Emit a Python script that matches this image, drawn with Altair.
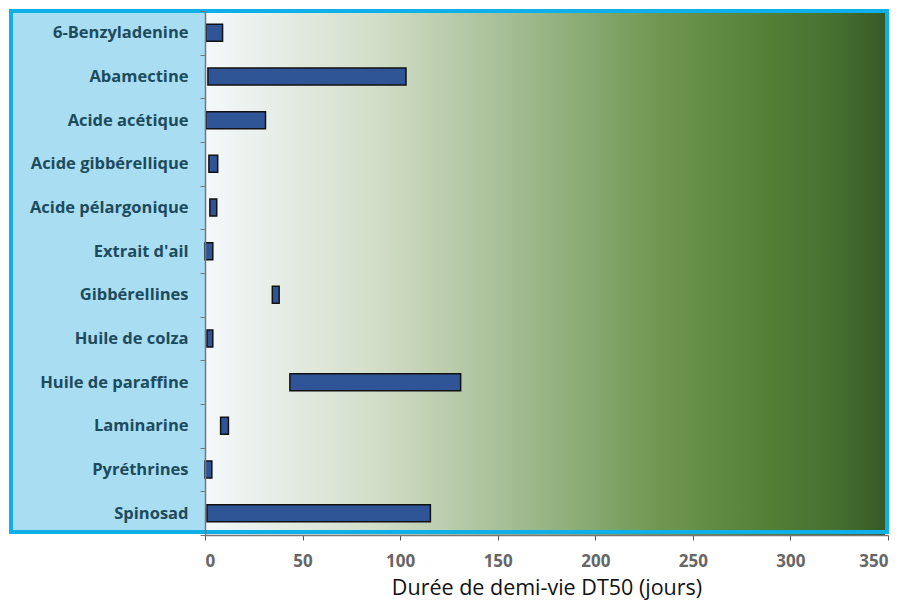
import altair as alt
import pandas as pd

categories = ["6-Benzyladenine", "Abamectine", "Acide acétique", "Acide gibbérellique",
              "Acide pélargonique", "Extrait d'ail", "Gibbérellines", "Huile de colza",
              "Huile de paraffine", "Laminarine", "Pyréthrines", "Spinosad"]
dt50_min = [0.5, 1.5, 0.5, 2.0, 2.5, 0.0, 34.5, 1.0, 43.5, 8.0, 0.0, 1.0]
dt50_max = [9.0, 103.0, 31.0, 6.5, 6.0, 4.0, 38.0, 4.0, 131.0, 12.0, 3.5, 115.5]
x_ticks = [0, 50, 100, 150, 200, 250, 300, 350]

df = pd.DataFrame({"substance": categories, "min": dt50_min, "max": dt50_max})

W, H = 683, 524
FONT = "Open Sans"

gradient = alt.Gradient(
    gradient="linear", x1=0, y1=0, x2=1, y2=0,
    stops=[
        alt.GradientStop(color="#f4f8fb", offset=0.0),
        alt.GradientStop(color="#d3dec9", offset=0.25),
        alt.GradientStop(color="#98b585", offset=0.5),
        alt.GradientStop(color="#6f9651", offset=0.67),
        alt.GradientStop(color="#548137", offset=0.82),
        alt.GradientStop(color="#456f30", offset=0.93),
        alt.GradientStop(color="#375a24", offset=1.0),
    ],
)

bg = alt.Chart(df).mark_rect(fill=gradient).encode(
    x=alt.value(0), x2=alt.value(W - 3), y=alt.value(0), y2=alt.value(H)
)

left_panel = alt.Chart(df).mark_rect(fill="#a9ddf2", clip=False).encode(
    x=alt.value(-193), x2=alt.value(0), y=alt.value(0), y2=alt.value(H - 3)
)

border = alt.Chart(df).mark_rect(fill=None, stroke="#0fb0ea", strokeWidth=3.5, clip=False).encode(
    x=alt.value(-194), x2=alt.value(W - 1), y=alt.value(0), y2=alt.value(H - 3)
)

bars = alt.Chart(df).mark_bar(
    color="#2f5597", stroke="#111111", strokeWidth=1.5, height=17
).encode(
    y=alt.Y("substance:N", sort=categories,
            scale=alt.Scale(paddingInner=0, paddingOuter=0),
            axis=alt.Axis(title=None, labelFont=FONT, labelFontSize=16.5, labelFontWeight="bold",
                          labelColor="#1c4b5c", labelPadding=12, tickBand="extent",
                          tickSize=5, tickColor="#777777", domainColor="#777777",
                          domainWidth=1.5, zindex=2)),
    x=alt.X("min:Q", scale=alt.Scale(domain=[0, 350], nice=False),
            axis=alt.Axis(values=x_ticks, title="Durée de demi-vie DT50 (jours)",
                          titleFont=FONT, titleFontSize=21.5, titleFontWeight="normal",
                          titleColor="#111111", titlePadding=8,
                          labelFont=FONT, labelFontSize=17, labelFontWeight="bold",
                          labelColor="#666666", labelPadding=13, grid=False,
                          tickSize=5, tickColor="#555555", domainColor="#777777",
                          domainWidth=1.5, zindex=2)),
    x2="max:Q",
)

chart = alt.layer(left_panel, bg, border, bars).properties(
    width=W, height=H,
    autosize=alt.AutoSizeParams(type="none"),
    padding={"left": 205, "top": 11, "right": 18, "bottom": 68},
).configure_view(stroke=None)

chart.save("out.html", embed_options={"renderer": "svg", "actions": False})
